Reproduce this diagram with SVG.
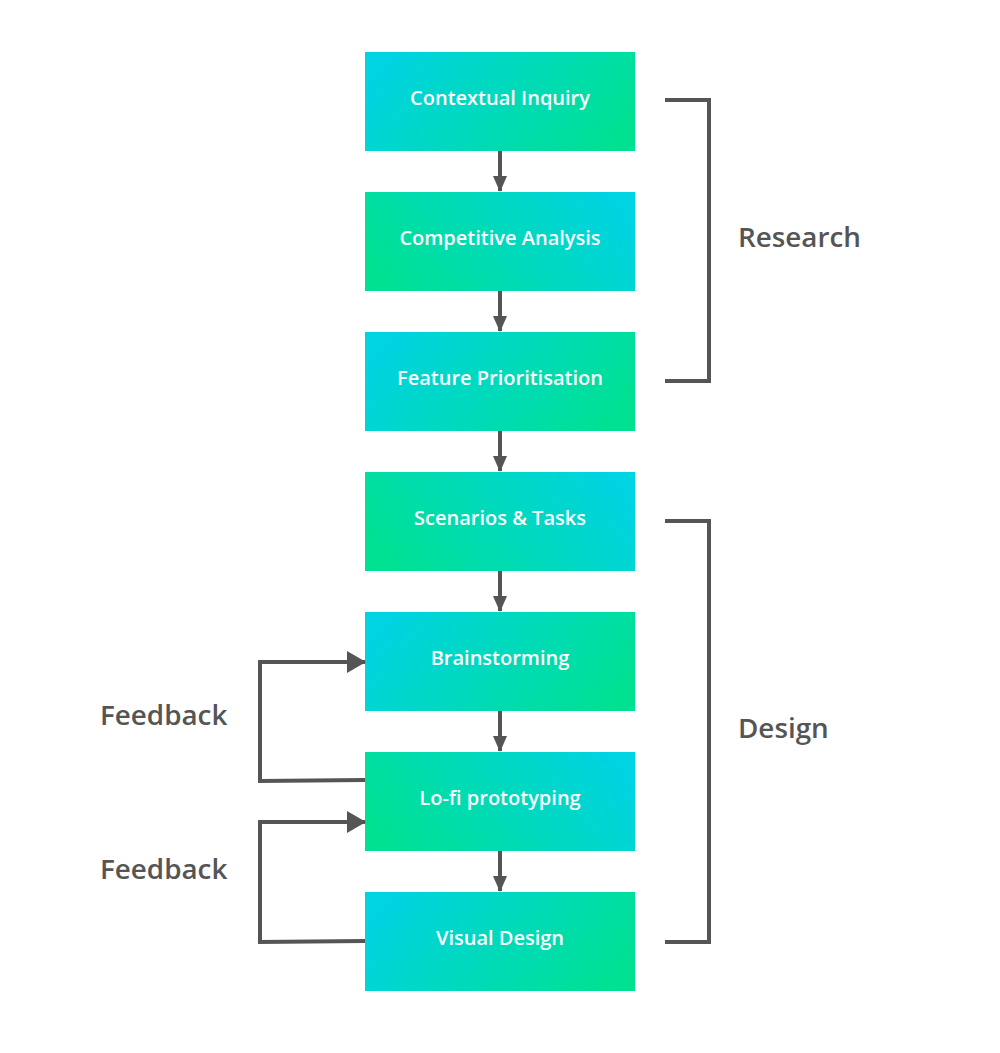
<svg xmlns="http://www.w3.org/2000/svg" width="1000" height="1053" viewBox="0 0 1000 1053">
<defs>
<linearGradient id="gA" x1="0" y1="0.35" x2="1" y2="0.65">
<stop offset="0" stop-color="#00D3E2"/><stop offset="1" stop-color="#00E192"/>
</linearGradient>
<linearGradient id="gB" x1="0" y1="0.65" x2="1" y2="0.35">
<stop offset="0" stop-color="#00E192"/><stop offset="1" stop-color="#00D3E2"/>
</linearGradient>
<marker id="ah" markerWidth="16" markerHeight="14" refX="15" refY="7" orient="auto" markerUnits="userSpaceOnUse">
<path d="M0,0 L16,7 L0,14 Z" fill="#555"/>
</marker>
<marker id="ahb" markerWidth="19" markerHeight="22" refX="18" refY="11" orient="auto" markerUnits="userSpaceOnUse">
<path d="M0,0 L19,11 L0,22 Z" fill="#555"/>
</marker>
<style>
.bt{font-family:"Open Sans","Liberation Sans",sans-serif;font-weight:600;font-size:20px;fill:#fff;text-anchor:middle}
.lb{font-family:"Open Sans","Liberation Sans",sans-serif;font-weight:600;font-size:27.8px;fill:#555}
.ln{fill:none;stroke:#555;stroke-width:4}
</style>
</defs>
<rect width="1000" height="1053" fill="#fff"/>
<g id="n1"><rect x="365" y="52" width="270" height="99" fill="url(#gA)"/><text class="bt" x="500" y="105">Contextual Inquiry</text></g>
<g id="n2"><rect x="365" y="192" width="270" height="99" fill="url(#gB)"/><text class="bt" x="500" y="245">Competitive Analysis</text></g>
<g id="n3"><rect x="365" y="332" width="270" height="99" fill="url(#gA)"/><text class="bt" x="500" y="385">Feature Prioritisation</text></g>
<g id="n4"><rect x="365" y="472" width="270" height="99" fill="url(#gB)"/><text class="bt" x="500" y="525">Scenarios &amp; Tasks</text></g>
<g id="n5"><rect x="365" y="612" width="270" height="99" fill="url(#gA)"/><text class="bt" x="500" y="665">Brainstorming</text></g>
<g id="n6"><rect x="365" y="752" width="270" height="99" fill="url(#gB)"/><text class="bt" x="500" y="805">Lo-fi prototyping</text></g>
<g id="n7"><rect x="365" y="892" width="270" height="99" fill="url(#gA)"/><text class="bt" x="500" y="945">Visual Design</text></g>
<g id="connectors">
<line class="ln" x1="500" y1="151" x2="500" y2="191" marker-end="url(#ah)"/>
<line class="ln" x1="500" y1="291" x2="500" y2="331" marker-end="url(#ah)"/>
<line class="ln" x1="500" y1="431" x2="500" y2="471" marker-end="url(#ah)"/>
<line class="ln" x1="500" y1="571" x2="500" y2="611" marker-end="url(#ah)"/>
<line class="ln" x1="500" y1="711" x2="500" y2="751" marker-end="url(#ah)"/>
<line class="ln" x1="500" y1="851" x2="500" y2="891" marker-end="url(#ah)"/>
<path class="ln" d="M365,780 L260,781 L260,662 L365,662" marker-end="url(#ahb)"/>
<path class="ln" d="M365,941 L260,942 L260,822 L365,822" marker-end="url(#ahb)"/>
<path class="ln" d="M665,100 L709,100 L709,381 L665,381"/>
<path class="ln" d="M665,521 L709,521 L709,942 L665,942"/>
</g>
<text class="lb" x="738" y="247">Research</text>
<text class="lb" x="738" y="738">Design</text>
<text class="lb" x="100" y="725">Feedback</text>
<text class="lb" x="100" y="879">Feedback</text>
</svg>
